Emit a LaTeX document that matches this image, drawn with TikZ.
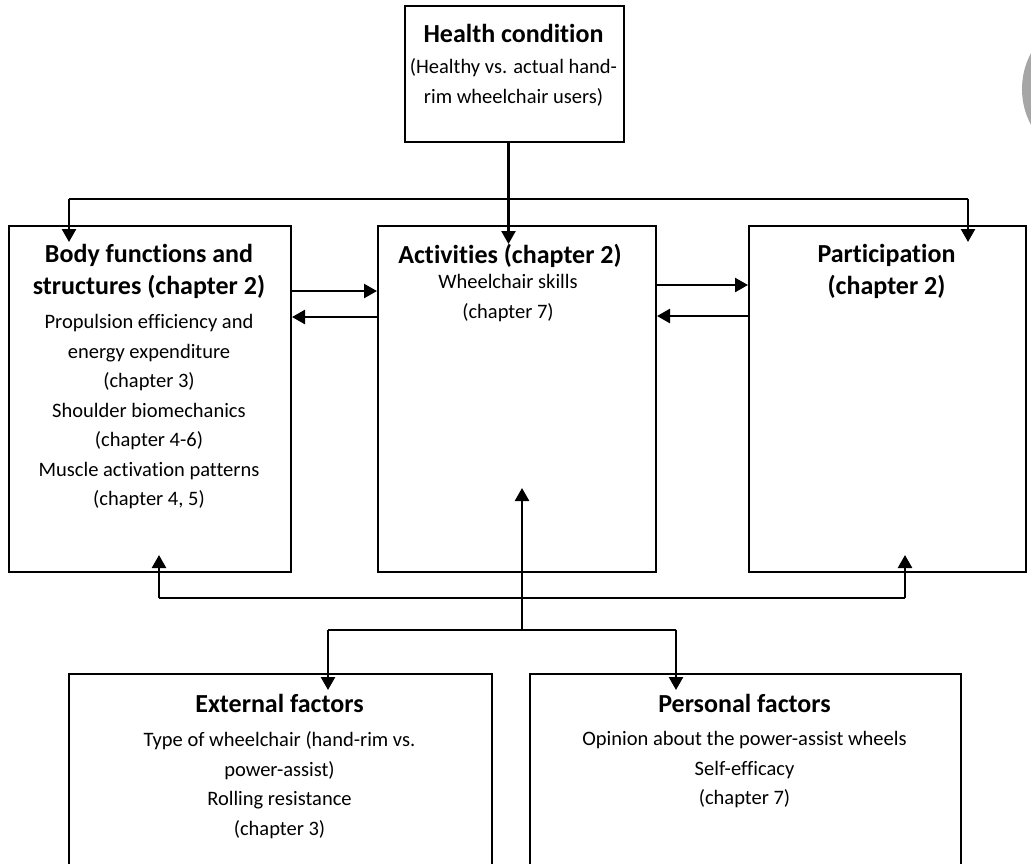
\documentclass[tikz,border=0pt]{standalone}
\usepackage{fontspec}
\setmainfont{Carlito}[Ligatures={NoCommon}]
\usetikzlibrary{arrows.meta}
\definecolor{cgray}{HTML}{A6A6A6}
\begin{document}
\begin{tikzpicture}[x=1pt,y=-1pt,
  box/.style={draw=black, line width=2pt, anchor=north west, inner sep=0},
  arr/.style={line width=2.5pt, -{Triangle[length=13pt,width=14pt]}},
  ln/.style={line width=2.5pt},
  hd/.style={font=\bfseries\fontsize{26}{32}\selectfont, align=center, anchor=north, inner sep=0},
  tx/.style={font=\fontsize{20.5}{29.5}\selectfont, align=center, anchor=north, inner sep=0}]
\useasboundingbox (0,0) rectangle (1031,863);
\fill[white] (0,0) rectangle (1031,863);
\fill[cgray] (1098,89) circle[radius=76pt];

% boxes
\node[box, minimum width=219pt, minimum height=136pt] (health) at (404,5) {};
\node[box, minimum width=282pt, minimum height=346pt] (body) at (8,225) {};
\node[box, minimum width=278pt, minimum height=346pt] (act) at (377,225) {};
\node[box, minimum width=277pt, minimum height=346pt] (part) at (748,225) {};
\node[box, minimum width=423pt, minimum height=260pt] (ext) at (68,673) {};
\node[box, minimum width=431pt, minimum height=260pt] (pers) at (529,673) {};

% texts
\node[hd] (healthT) at (513.5,24) {Health condition};
\node[tx] (healthB) at (513.5,58.5) {(Healthy vs. actual hand-\\rim wheelchair users)};

\node[hd] (bodyT) at (149,244) {Body functions and\\structures (chapter 2)};
\node[tx] (bodyB) at (149,314.5) {Propulsion efficiency and\\energy expenditure\\(chapter 3)\\Shoulder biomechanics\\(chapter 4-6)\\Muscle activation patterns\\(chapter 4, 5)};

\node[hd] (actT) at (510,244) {Activities (chapter 2)};
\node[tx] (actB) at (508,274.5) {Wheelchair skills\\(chapter 7)};

\node[hd] (partT) at (886.5,244) {Participation\\(chapter 2)};

\node[hd] (extT) at (279.5,694) {External factors};
\node[tx] (extB) at (279.5,731.5) {Type of wheelchair (hand-rim vs.\\power-assist)\\Rolling resistance\\(chapter 3)};

\node[hd] (persT) at (744.5,694) {Personal factors};
\node[tx] (persB) at (744.5,731.5) {Opinion about the power-assist wheels\\Self-efficacy\\(chapter 7)};

% connectors
\coordinate (tL) at (69,199);
\coordinate (tR) at (968,199);
\draw[ln] (tL) -- (tR);
\draw[arr] (tL) -- ++(0,43);
\draw[arr] (tR) -- ++(0,43);
\draw[arr] ([xshift=-6pt]health.south) -- ++(0,101);

\draw[arr] (body.east |- 0,291) -- (act.west |- 0,291);
\draw[arr] (act.west |- 0,317) -- (body.east |- 0,317);
\draw[arr] (act.east |- 0,285) -- (part.west |- 0,285);
\draw[arr] (part.west |- 0,316) -- (act.east |- 0,316);

\coordinate (bL) at (159,598);
\coordinate (bR) at (905,598);
\draw[ln] (bL) -- (bR);
\draw[arr] (bL) -- ++(0,-43);
\draw[arr] (bR) -- ++(0,-43);

\coordinate (fC) at (522,630);
\coordinate (fL) at (328,630);
\coordinate (fR) at (676,630);
\draw[arr] (fC) -- ++(0,-142);
\draw[ln] (fL) -- (fR);
\draw[arr] (fL) -- ++(0,60);
\draw[arr] (fR) -- ++(0,60);
\end{tikzpicture}
\end{document}
